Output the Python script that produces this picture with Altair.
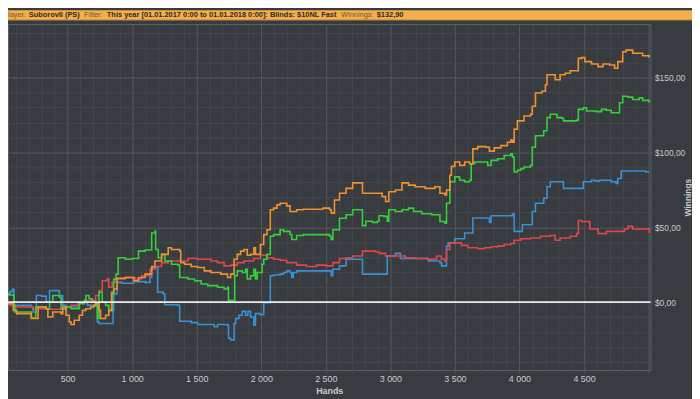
import altair as alt
import pandas as pd

# ---------------- data (hands played, cumulative winnings in $) ----------------
series_names = ["Blue", "Red", "Green", "Orange"]
series_colors = ["#3b8fd3", "#e0474c", "#35d03c", "#f0922e"]

blue_hands = [8, 54, 74, 84, 219, 232, 258, 296, 334, 360, 436, 462, 487, 590, 653, 730, 743,
              852, 857, 883, 921, 1011, 1100, 1138, 1151, 1197, 1240, 1253, 1355, 1368, 1457,
              1508, 1636, 1661, 1738, 1746, 1763, 1789, 1802, 1827, 1853, 1878, 1896, 1917,
              1942, 1955, 1993, 2019, 2070, 2095, 2146, 2172, 2197, 2223, 2236, 2248, 2274,
              2542, 2555, 2606, 2657, 2784, 2976, 3039, 3078, 3294, 3384, 3396, 3435, 3448,
              3499, 3575, 3639, 3767, 3780, 3946, 3959, 4022, 4099, 4124, 4188, 4213, 4239,
              4341, 4494, 4558, 4584, 4622, 4711, 4749, 4762, 4788, 4979, 5005]
blue_win = [5.5, 7.0, 8.8, -2.2, -3.3, -6.6, 4.4, 4.0, 0.0, 7.7, 4.4, -2.2, -3.3, 0.0, -2.2,
            -13.2, -14.3, -5.5, 5.5, 13.2, 12.6, 13.7, 13.2, 16.5, 23.1, 6.6, 5.5, -1.8, -2.2,
            -12.8, -13.7, -15.0, -16.5, -15.0, -15.4, -24.2, -25.3, -14.3, -11.0, -8.8, -6.2,
            -8.8, -6.2, -9.9, -15.4, -7.7, -8.4, -0.4, 17.6, 18.1, 18.7, 19.8, 20.9, 19.8,
            16.5, 19.8, 20.9, 17.6, 22.0, 24.2, 28.6, 18.7, 30.8, 32.6, 29.1, 27.5, 26.4,
            24.2, 37.4, 39.6, 42.3, 46.2, 56.2, 53.3, 57.7, 59.0, 47.3, 51.7, 60.6, 66.1,
            69.4, 77.1, 80.4, 76.0, 80.4, 81.5, 81.0, 81.5, 80.4, 79.3, 82.6, 87.6, 87.0, 87.0]

red_hands = [8, 54, 79, 232, 360, 487, 526, 577, 641, 717, 743, 768, 806, 819, 845, 870, 947,
             1023, 1074, 1138, 1176, 1228, 1279, 1432, 1508, 1610, 1661, 1712, 1763, 1814,
             1866, 1942, 1993, 2044, 2095, 2146, 2197, 2274, 2350, 2427, 2503, 2555, 2606,
             2657, 2708, 2784, 2886, 2912, 2963, 3065, 3116, 3192, 3294, 3358, 3396, 3422,
             3435, 3461, 3524, 3550, 3601, 3677, 3728, 3780, 3831, 3882, 3933, 3959, 4010,
             4086, 4163, 4239, 4277, 4315, 4392, 4443, 4456, 4481, 4545, 4609, 4673, 4749,
             4813, 4839, 4877, 4954, 5005]
red_win = [-1.1, -2.2, -3.3, -4.4, -4.8, -3.3, -2.2, -0.4, 1.1, 4.4, 7.7, 14.3, 15.4, 9.9,
           13.2, 15.4, 16.5, 15.4, 17.6, 22.0, 23.8, 26.4, 27.5, 29.1, 28.6, 27.5, 26.4, 24.2,
           24.7, 26.4, 27.5, 29.1, 31.3, 29.7, 28.6, 28.0, 26.4, 24.7, 23.8, 24.7, 24.2, 26.4,
           29.1, 29.7, 30.8, 34.1, 33.5, 32.6, 30.8, 30.8, 29.7, 29.1, 28.6, 30.8, 28.6, 27.5,
           35.2, 39.6, 39.6, 37.9, 36.3, 35.7, 36.3, 37.0, 37.4, 38.5, 39.2, 41.4, 42.3, 42.9,
           44.0, 44.5, 41.4, 42.9, 44.0, 45.8, 54.6, 53.9, 48.9, 45.8, 47.3, 47.3, 48.9, 50.6,
           48.9, 48.9, 46.2]

green_hands = [8, 41, 84, 92, 219, 253, 334, 360, 385, 436, 449, 487, 526, 590, 628, 641, 666,
               692, 717, 730, 743, 768, 794, 819, 845, 857, 875, 891, 947, 998, 1049, 1100,
               1151, 1176, 1182, 1202, 1228, 1253, 1304, 1355, 1368, 1432, 1483, 1534, 1585,
               1661, 1712, 1738, 1746, 1794, 1814, 1853, 1878, 1891, 1917, 1942, 1955, 1968,
               2006, 2019, 2044, 2070, 2095, 2146, 2172, 2223, 2236, 2274, 2325, 2529, 2542,
               2555, 2606, 2657, 2708, 2784, 2810, 2861, 2899, 2912, 2950, 2976, 2988, 3039,
               3090, 3141, 3180, 3243, 3320, 3384, 3422, 3435, 3461, 3499, 3537, 3575, 3614,
               3626, 3652, 3754, 3780, 3831, 3882, 3933, 3946, 3959, 3984, 4010, 4035, 4086,
               4099, 4124, 4188, 4213, 4239, 4290, 4328, 4341, 4443, 4456, 4494, 4520, 4596,
               4635, 4673, 4711, 4775, 4800, 4839, 4877, 4928, 4954, 5005]
green_win = [5.5, 4.8, -2.2, -6.6, -10.6, -3.3, -4.4, 0.0, 4.4, 3.3, -4.4, -3.3, -4.4, -1.1,
             1.1, 4.4, 2.2, 0.0, -2.2, -11.0, 6.6, 0.0, -2.2, -5.5, 5.5, 15.4, 18.7, 29.7,
             28.6, 29.1, 34.1, 34.8, 46.2, 47.3, 35.2, 29.7, 31.9, 27.5, 25.3, 24.7, 16.5,
             15.4, 14.3, 12.1, 11.0, 9.9, 8.8, 9.9, 1.1, 17.6, 20.9, 19.8, 22.0, 15.4, 17.6,
             22.0, 15.4, 19.8, 25.3, 28.6, 31.9, 44.0, 45.1, 48.4, 47.3, 45.1, 41.8, 44.5,
             45.1, 44.0, 41.8, 48.4, 56.1, 58.4, 61.7, 51.1, 54.1, 53.3, 54.1, 57.7, 57.3,
             54.1, 61.7, 60.6, 61.7, 62.8, 60.6, 59.0, 58.4, 53.9, 52.8, 66.1, 80.4, 83.7,
             81.5, 80.4, 81.5, 92.5, 93.6, 91.4, 94.7, 95.8, 98.0, 99.1, 96.9, 87.0, 88.1,
             89.2, 90.3, 91.4, 103.5, 111.2, 114.5, 123.3, 125.5, 123.3, 122.9, 121.1, 121.6,
             128.8, 129.9, 127.7, 127.3, 128.8, 128.2, 126.6, 133.2, 137.6, 137.0, 135.4,
             136.5, 134.8, 133.2]

orange_hands = [8, 79, 105, 219, 271, 334, 347, 385, 449, 462, 487, 513, 526, 551, 590, 615,
                641, 679, 704, 717, 743, 755, 794, 819, 840, 857, 883, 947, 1011, 1049, 1100,
                1151, 1176, 1228, 1279, 1304, 1368, 1376, 1406, 1457, 1508, 1559, 1610, 1687,
                1738, 1763, 1789, 1814, 1840, 1866, 1891, 1917, 1942, 1955, 1993, 2019, 2044,
                2070, 2095, 2121, 2146, 2197, 2223, 2274, 2325, 2401, 2478, 2529, 2542, 2567,
                2606, 2657, 2708, 2784, 2886, 2937, 2963, 2988, 3039, 3090, 3141, 3192, 3269,
                3345, 3384, 3422, 3435, 3461, 3473, 3499, 3537, 3575, 3614, 3639, 3677, 3741,
                3767, 3805, 3856, 3907, 3933, 3946, 3959, 3984, 4035, 4086, 4099, 4124, 4175,
                4201, 4213, 4252, 4277, 4315, 4354, 4392, 4443, 4456, 4481, 4507, 4558, 4609,
                4647, 4698, 4737, 4762, 4800, 4826, 4877, 4928, 4954, 5005]
orange_win = [-1.1, -5.5, -7.7, -11.0, -3.3, -4.4, -9.9, -6.6, -7.7, -3.3, -8.8, -13.2, -15.0,
              -12.1, -8.8, -5.5, -4.4, -3.3, -2.2, -1.1, -5.5, -11.0, -8.8, -5.5, 6.6, 8.8,
              15.9, 16.5, 14.3, 16.5, 18.7, 23.8, 27.5, 31.9, 36.3, 35.2, 34.1, 26.4, 25.3,
              23.8, 23.1, 20.9, 19.8, 18.7, 16.5, 18.7, 28.6, 31.9, 34.1, 35.2, 31.3, 31.9,
              36.3, 31.9, 38.5, 45.1, 48.4, 61.7, 62.8, 65.0, 66.1, 64.3, 60.6, 61.7, 62.1,
              62.1, 62.8, 61.7, 59.5, 68.3, 72.7, 76.0, 79.7, 72.7, 72.7, 70.5, 67.2, 73.8,
              74.9, 79.7, 78.2, 77.1, 76.0, 77.1, 72.7, 71.6, 74.9, 84.8, 90.7, 93.6, 91.4,
              93.6, 92.5, 102.4, 103.9, 103.5, 100.9, 103.1, 104.6, 106.8, 108.3, 106.8, 115.6,
              121.1, 124.4, 125.5, 130.9, 139.8, 140.9, 145.3, 151.9, 151.9, 148.6, 151.9,
              153.0, 154.6, 154.6, 162.9, 163.4, 160.7, 159.1, 157.4, 159.1, 158.5, 156.3,
              160.7, 167.3, 168.4, 166.3, 166.3, 164.7, 163.4]

header_parts = [
    ("layer:", False),
    ("Suborovll (PS)", True),
    ("Filter:", False),
    ("This year [01.01.2017 0:00 to 01.01.2018 0:00]: Blinds: $10NL Fast", True),
    ("Winnings:", False),
    ("$132,90", True),
]
header_x = [0, 21, 77, 100, 337, 373]

x_ticks = list(range(100, 5001, 100))
y_ticks = list(range(-40, 181, 10))

# ---------------- build table ----------------
rows = []
for name, hs, vs in [("Blue", blue_hands, blue_win), ("Red", red_hands, red_win),
                     ("Green", green_hands, green_win), ("Orange", orange_hands, orange_win)]:
    for i, (h, v) in enumerate(zip(hs, vs)):
        rows.append({"series": name, "hands": h, "winnings": v, "idx": i})
df = pd.DataFrame(rows)

BG = "#383b3f"
MINOR = "#44484c"
MAJOR = "#565a5f"
TXT = "#c9cbcd"
FONT = "Liberation Sans, Arial, sans-serif"

W, H = 650, 350

xscale = alt.Scale(domain=[38, 5015], nice=False, zero=False)
yscale = alt.Scale(domain=[-45.4, 185.8], nice=False, zero=False)

xaxis = alt.Axis(
    values=x_ticks,
    labelExpr="(datum.value % 500 === 0 && datum.value < 5000) ? replace(format(datum.value, ','), ',', ' ') : ''",
    gridColor={"condition": {"test": "datum.value % 500 === 0", "value": MAJOR}, "value": MINOR},
    tickColor={"condition": {"test": "datum.value % 500 === 0", "value": MAJOR}, "value": MINOR},
    tickSize=3, labelPadding=2, labelOverlap=False, labelFlush=False,
    labelColor=TXT, labelFont=FONT, labelFontSize=9,
    titleColor=TXT, titleFont=FONT, titleFontSize=9, titleFontWeight="bold", titlePadding=3,
    domain=False,
)
yaxis = alt.Axis(
    orient="right",
    values=y_ticks,
    labelExpr="datum.value % 50 === 0 ? '$' + replace(format(datum.value, '.2f'), '.', ',') : ''",
    gridColor={"condition": {"test": "datum.value % 50 === 0", "value": MAJOR}, "value": MINOR},
    tickColor={"condition": {"test": "datum.value % 50 === 0", "value": MAJOR}, "value": MINOR},
    tickSize=2, labelPadding=2, labelOverlap=False, labelFlush=False,
    labelColor=TXT, labelFont=FONT, labelFontSize=8.5,
    titleColor=TXT, titleFont=FONT, titleFontSize=8.5, titleFontWeight="bold",
    titleAngle=270, titleX=37, titleY=H / 2, titleBaseline="middle", titleAlign="center",
    domain=False,
)

X = alt.X("hands:Q", scale=xscale, axis=xaxis, title="Hands")
Y = alt.Y("winnings:Q", scale=yscale, axis=yaxis, title="Winnings")

lines = alt.Chart(df).mark_line(interpolate="step-after", strokeWidth=1.6, clip=True).encode(
    x=X, y=Y,
    color=alt.Color("series:N", scale=alt.Scale(domain=series_names, range=series_colors), legend=None),
    order="idx:Q",
)

zero_df = pd.DataFrame({"winnings": [0.0]})
zero = alt.Chart(zero_df).mark_rule(color="#ececec", strokeWidth=2).encode(y=Y)

one = pd.DataFrame({"a": [0]})
bar = alt.Chart(one).mark_rect(color="#f4ae4b", clip=False).encode(
    x=alt.value(0), x2=alt.value(W + 42), y=alt.value(-14), y2=alt.value(-4)
)
bar_edge = alt.Chart(one).mark_rule(color="#d9963c", clip=False).encode(
    x=alt.value(0), x2=alt.value(W + 42), y=alt.value(-4.5)
)

texts = []
for (t, bold), px in zip(header_parts, header_x):
    texts.append(
        alt.Chart(one).mark_text(
            align="left", baseline="middle", font=FONT, fontSize=7.5,
            fontWeight="bold" if bold else "normal",
            color="#2e2a24" if bold else "#6e5a3a", clip=False,
        ).encode(x=alt.value(px), y=alt.value(-9), text=alt.value(t))
    )

chart = alt.layer(bar, bar_edge, lines, zero, *texts).properties(
    width=W, height=H,
    background=BG,
    autosize=alt.AutoSizeParams(type="none"),
    padding={"left": 0, "top": 14, "right": 42, "bottom": 27},
).configure_view(stroke="#5e6266", strokeWidth=1)

chart.save("out.html", embed_options={"renderer": "svg", "actions": False})
